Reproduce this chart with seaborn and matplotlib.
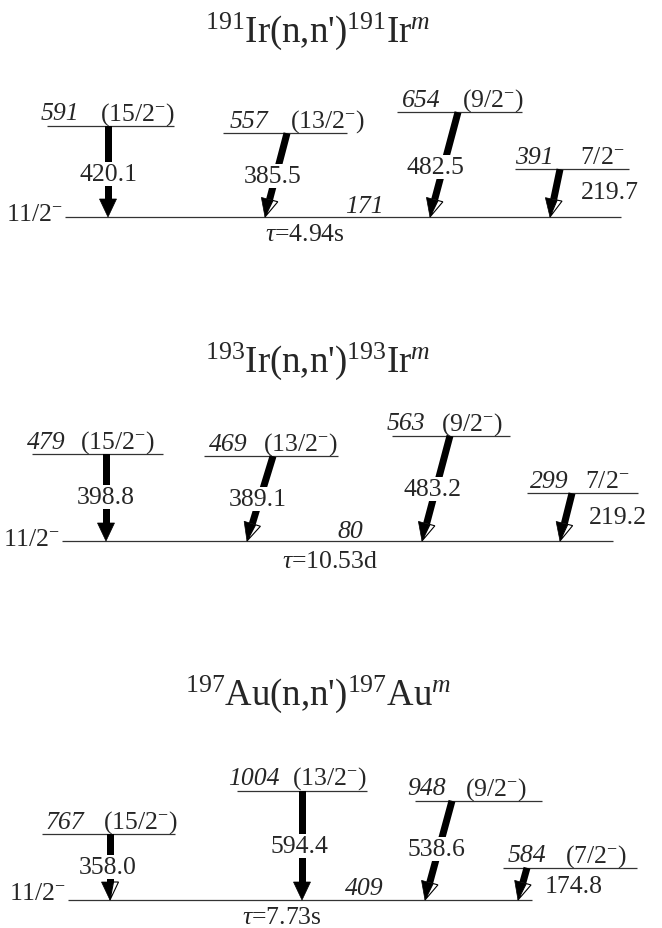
import numpy as np
import matplotlib
matplotlib.use("Agg")
import matplotlib.pyplot as plt
import seaborn as sns
from matplotlib.patches import Polygon

# ---------------- data ----------------
mass_numbers = [191, 193, 197]
elements = ["Ir", "Ir", "Au"]
ground_energy = [171, 80, 409]
ground_spin = "11/2-"
half_lives = ["4.94s", "10.53d", "7.73s"]

levels_191 = [591, 557, 654, 391]
spins_191 = ["(15/2-)", "(13/2-)", "(9/2-)", "7/2-"]
gammas_191 = [420.1, 385.5, 482.5, 219.7]

levels_193 = [479, 469, 563, 299]
spins_193 = ["(15/2-)", "(13/2-)", "(9/2-)", "7/2-"]
gammas_193 = [398.8, 389.1, 483.2, 219.2]

levels_197 = [767, 1004, 948, 584]
spins_197 = ["(15/2-)", "(13/2-)", "(9/2-)", "(7/2-)"]
gammas_197 = [358.0, 594.4, 538.6, 174.8]

level_sets = [levels_191, levels_193, levels_197]
spin_sets = [spins_191, spins_193, spins_197]
gamma_sets = [gammas_191, gammas_193, gammas_197]

# ---------------- layout (pixels) ----------------
W, H = 662, 929
LAYOUT = [
    dict(top=0, bot=310, ground_px=218, scale=0.217, title_y=42,
         ground_x=(65, 621), gs_x=63, gs_dy=-3, gE_x=345, gE_dy=5,
         tau_x=305, tau_dy=-17,
         lines=[(47, 174), (223, 347), (397, 522), (515, 629)],
         elab=[41, 230, 402, 515], slab=[100, 290, 462, 580],
         arrows=[(108, 108), (287, 265), (458, 430), (560, 550)],
         glab=[(108, 175), (273, 177), (435, 168), (610, 193)],
         gbox=[True, True, True, False], half=[False, True, True, True]),
    dict(top=310, bot=620, ground_px=542, scale=0.218, title_y=372,
         ground_x=(62, 613), gs_x=60, gs_dy=-4, gE_x=337, gE_dy=4,
         tau_x=330, tau_dy=-20,
         lines=[(32, 163), (204, 338), (392, 510), (527, 638)],
         elab=[27, 209, 387, 530], slab=[80, 263, 441, 585],
         arrows=[(106, 106), (273, 247), (450, 422), (572, 560)],
         glab=[(106, 498), (258, 500), (432, 490), (618, 518)],
         gbox=[True, True, True, False], half=[False, True, True, True]),
    dict(top=620, bot=929, ground_px=901, scale=0.184, title_y=705,
         ground_x=(68, 532), gs_x=66, gs_dy=1, gE_x=345, gE_dy=6,
         tau_x=282, tau_dy=-17,
         lines=[(42, 175), (237, 367), (415, 542), (503, 637)],
         elab=[45, 228, 407, 508], slab=[103, 292, 465, 565],
         arrows=[(110, 110), (302, 302), (452, 425), (527, 518)],
         glab=[(108, 868), (299, 847), (436, 850), (574, 887)],
         gbox=[True, True, True, False], half=[True, False, True, True]),
]
BW, HW, HL = 7.0, 17.0, 18.0  # arrow body width, head width, head length (px)

# ---------------- style ----------------
sns.set_theme(style="white")
plt.rcParams["font.family"] = ["Liberation Serif", "DejaVu Serif"]
plt.rcParams["mathtext.fontset"] = "custom"
plt.rcParams["mathtext.rm"] = "Liberation Serif"
plt.rcParams["mathtext.it"] = "Liberation Serif:italic"
plt.rcParams["mathtext.bf"] = "Liberation Serif:bold"

FS = 18.5
TFS = 26.5
LINE_KW = dict(color="#333333", lw=0.9)


def spin_tex(s):
    return s.replace("-", r"$^{-}$")


fig = plt.figure(figsize=(W / 100, H / 100), dpi=100)

for i, L in enumerate(LAYOUT):
    Eg = ground_energy[i]
    sc = L["scale"]
    gpx = L["ground_px"]
    ax = fig.add_axes([0, 1 - L["bot"] / H, 1, (L["bot"] - L["top"]) / H])
    ax.set_xlim(0, W)
    ax.set_ylim(Eg - (L["bot"] - gpx) / sc, Eg + (gpx - L["top"]) / sc)
    ax.set_axis_off()

    def e_of_px(ypx):
        return Eg + (gpx - ypx) / sc

    def px_of_e(e):
        return gpx - (e - Eg) * sc

    # title
    ax.text(318, e_of_px(L["title_y"]),
            rf"$^{{{mass_numbers[i]}}}$" + f"{elements[i]}(n,n')" +
            rf"$^{{{mass_numbers[i]}}}$" + f"{elements[i]}" + r"$^{m}$",
            ha="center", va="baseline", fontsize=TFS)

    # ground level
    ax.hlines(Eg, *L["ground_x"], **LINE_KW)
    ax.text(L["gs_x"], Eg + L["gs_dy"] / sc,
            spin_tex(ground_spin), ha="right", va="baseline", fontsize=FS)
    ax.text(L["gE_x"], Eg + L["gE_dy"] / sc, str(Eg), ha="left", va="baseline",
            fontsize=FS, fontstyle="italic")
    ax.text(L["tau_x"], Eg + L["tau_dy"] / sc, r"$\tau$=" + half_lives[i],
            ha="center", va="center", fontsize=FS)

    for j, E in enumerate(level_sets[i]):
        x0, x1 = L["lines"][j]
        ax.hlines(E, x0, x1, **LINE_KW)
        ax.text(L["elab"][j], E + 6.5 / sc, str(E), ha="left", va="baseline",
                fontsize=FS, fontstyle="italic")
        ax.text(L["slab"][j], E + 6.5 / sc, spin_tex(spin_sets[i][j]),
                ha="left", va="baseline", fontsize=FS)

        # arrow geometry in pixel space, converted to data
        xs, xt = L["arrows"][j]
        S = np.array([xs, px_of_e(E)])
        T = np.array([xt, px_of_e(Eg)])
        d = (T - S) / np.linalg.norm(T - S)
        n = np.array([-d[1], d[0]])
        Hb = T - d * HL

        def conv(pts):
            return [(p[0], e_of_px(p[1])) for p in pts]

        body = [S + n * BW / 2, Hb + n * BW / 2, Hb - n * BW / 2, S - n * BW / 2]
        ax.add_patch(Polygon(conv(body), closed=True, fc="black", ec="none", zorder=2))
        if L["half"][j]:
            blk = [Hb + n * HW / 2, T, Hb - n * BW / 2]
            wht = [Hb - n * BW / 2, Hb - n * HW / 2, T]
            ax.add_patch(Polygon(conv(blk), closed=True, fc="black", ec="black",
                                 lw=0.5, zorder=2))
            ax.add_patch(Polygon(conv(wht), closed=True, fc="white", ec="black",
                                 lw=0.8, zorder=2))
        else:
            head = [Hb + n * HW / 2, T, Hb - n * HW / 2]
            ax.add_patch(Polygon(conv(head), closed=True, fc="black", ec="black",
                                 lw=0.5, zorder=2))

        gx, gy = L["glab"][j]
        kw = dict(ha="center", va="center", fontsize=FS, zorder=3)
        if L["gbox"][j]:
            kw["bbox"] = dict(fc="white", ec="none", pad=1.0)
        ax.text(gx, e_of_px(gy), f"{gamma_sets[i][j]:.1f}", **kw)

fig.savefig("out.png", dpi=100)
